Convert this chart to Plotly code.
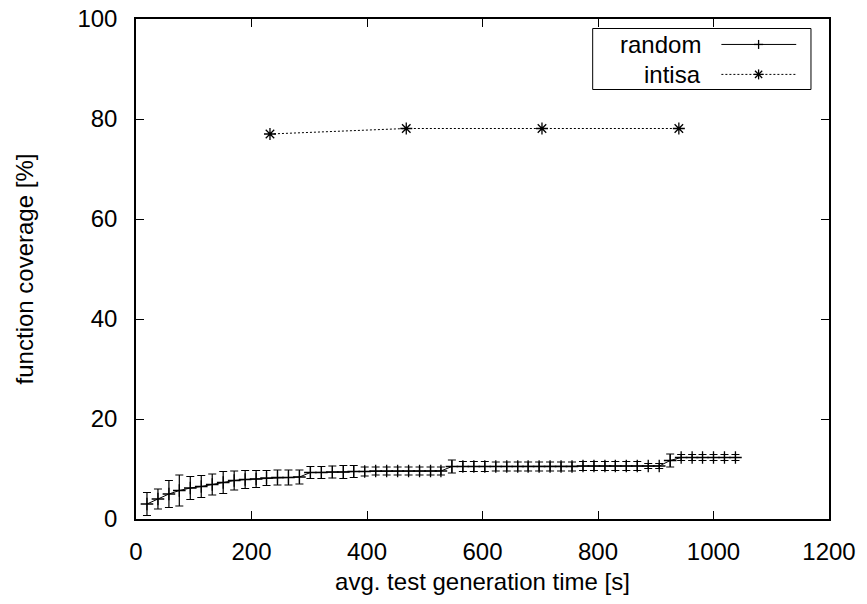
import plotly.graph_objects as go

# ---- data ----
random_x = [19, 38, 57, 75, 94, 113, 132, 151, 170, 189, 208, 226, 245, 264, 283,
            302, 321, 340, 359, 377, 396, 415, 434, 453, 472, 491, 510, 528, 547, 566,
            585, 604, 623, 642, 661, 679, 698, 717, 736, 755, 774, 793, 812, 830, 849,
            868, 887, 906, 925, 944, 963, 981, 1000, 1019, 1038]
random_y = [3.0, 4.0, 5.0, 5.7, 6.2, 6.5, 6.9, 7.3, 7.7, 7.9, 8.0, 8.2, 8.3, 8.3, 8.4,
            9.3, 9.3, 9.4, 9.4, 9.5, 9.5, 9.6, 9.6, 9.6, 9.6, 9.6, 9.6, 9.6, 10.5, 10.5,
            10.5, 10.5, 10.5, 10.5, 10.5, 10.5, 10.5, 10.5, 10.5, 10.5, 10.6, 10.6, 10.6, 10.6, 10.6,
            10.6, 10.6, 10.6, 11.7, 12.3, 12.3, 12.3, 12.3, 12.3, 12.3]
random_err = [2.3, 2.0, 2.7, 3.1, 2.3, 2.2, 2.1, 2.2, 1.9, 1.8, 1.7, 1.5, 1.5, 1.5, 1.4,
              1.2, 1.2, 1.2, 1.3, 1.2, 0.9, 0.8, 0.8, 0.8, 0.8, 0.8, 0.8, 0.8, 1.3, 1.0,
              1.0, 1.0, 0.9, 0.9, 0.9, 0.9, 0.9, 0.9, 0.9, 0.9, 0.9, 0.9, 0.9, 0.9, 0.9,
              0.9, 0.5, 0.5, 1.3, 0.6, 0.6, 0.6, 0.6, 0.6, 0.6]

intisa_x = [232, 468, 703, 940]
intisa_y = [77.0, 78.1, 78.1, 78.1]

series_names = ["random", "intisa"]
x_ticks = [0, 200, 400, 600, 800, 1000, 1200]
y_ticks = [0, 20, 40, 60, 80, 100]

FONT = "Liberation Sans, Arial, sans-serif"
FS = 24

fig = go.Figure()
fig.add_trace(go.Scatter(
    x=random_x, y=random_y, mode="lines+markers", name=series_names[0],
    line=dict(color="black", width=1),
    marker=dict(symbol="cross-thin", size=9, line=dict(color="black", width=1.3)),
    error_y=dict(type="data", array=random_err, visible=True,
                 color="black", thickness=1.2, width=4),
    showlegend=False,
))
fig.add_trace(go.Scatter(
    x=intisa_x, y=intisa_y, mode="lines+markers", name=series_names[1],
    line=dict(color="black", width=1, dash="2px,2px"),
    marker=dict(symbol="asterisk", size=10, line=dict(color="black", width=1.3)),
    showlegend=False,
))

# ---- custom gnuplot-style legend (text left, sample right) ----
lx0, lx1, ly0, ly1 = 0.659, 0.974, 0.859, 0.981
fig.add_shape(type="rect", xref="paper", yref="paper", x0=lx0, x1=lx1, y0=ly0, y1=ly1,
              line=dict(color="black", width=1), fillcolor="white", layer="above")
rows_y = [0.9491, 0.8892]
text_x = 0.8177
samp_x0, samp_x1, samp_c = 0.8447, 0.9527, 0.8984
dashes = ["solid", "2px,2px"]
for name, ry, dsh in zip(series_names, rows_y, dashes):
    fig.add_annotation(x=text_x, y=ry, xref="paper", yref="paper", text=name,
                       showarrow=False, xanchor="right", yanchor="middle",
                       font=dict(family=FONT, size=FS, color="black"))
    fig.add_shape(type="line", xref="paper", yref="paper", x0=samp_x0, x1=samp_x1,
                  y0=ry, y1=ry, line=dict(color="black", width=1, dash=dsh), layer="above")

def glyph(cx, cy, segs):
    for (dx0, dy0, dx1, dy1) in segs:
        fig.add_shape(type="line", xref="paper", yref="paper",
                      xsizemode="pixel", ysizemode="pixel", xanchor=cx, yanchor=cy,
                      x0=dx0, y0=dy0, x1=dx1, y1=dy1,
                      line=dict(color="black", width=1.3), layer="above")

glyph(samp_c, rows_y[0], [(-4.5, 0, 4.5, 0), (0, -4.5, 0, 4.5)])
glyph(samp_c, rows_y[1], [(-5, 0, 5, 0), (0, -5, 0, 5), (-3.6, -3.6, 3.6, 3.6), (-3.6, 3.6, 3.6, -3.6)])

axis_common = dict(showline=True, linecolor="black", linewidth=1.5, mirror="ticks",
                   ticks="inside", ticklen=8, tickcolor="black", tickwidth=1,
                   showgrid=False, zeroline=False, ticklabeloverflow="allow",
                   tickfont=dict(family=FONT, size=FS, color="black"))
fig.update_xaxes(range=[0, 1200], tickvals=x_ticks, ticktext=[str(v) for v in x_ticks],
                 title=dict(text="avg. test generation time [s]",
                            font=dict(family=FONT, size=FS, color="black"), standoff=10),
                 ticklabelstandoff=10, **axis_common)
fig.update_yaxes(range=[0, 100], tickvals=y_ticks, ticktext=[str(v) for v in y_ticks],
                 title=dict(text="function coverage [%]",
                            font=dict(family=FONT, size=FS, color="black"), standoff=37),
                 ticklabelstandoff=12, **axis_common)

fig.update_layout(
    width=867, height=604,
    margin=dict(l=135.5, r=37.5, t=18.5, b=84.5, autoexpand=False),
    paper_bgcolor="white", plot_bgcolor="white",
    font=dict(family=FONT, size=FS, color="black"),
)

# remove the default 8px body margin so the figure fills the window exactly
fig.write_html("out.html", config={"displayModeBar": False},
               post_script="document.body.style.margin='0';document.body.style.overflow='hidden';")
